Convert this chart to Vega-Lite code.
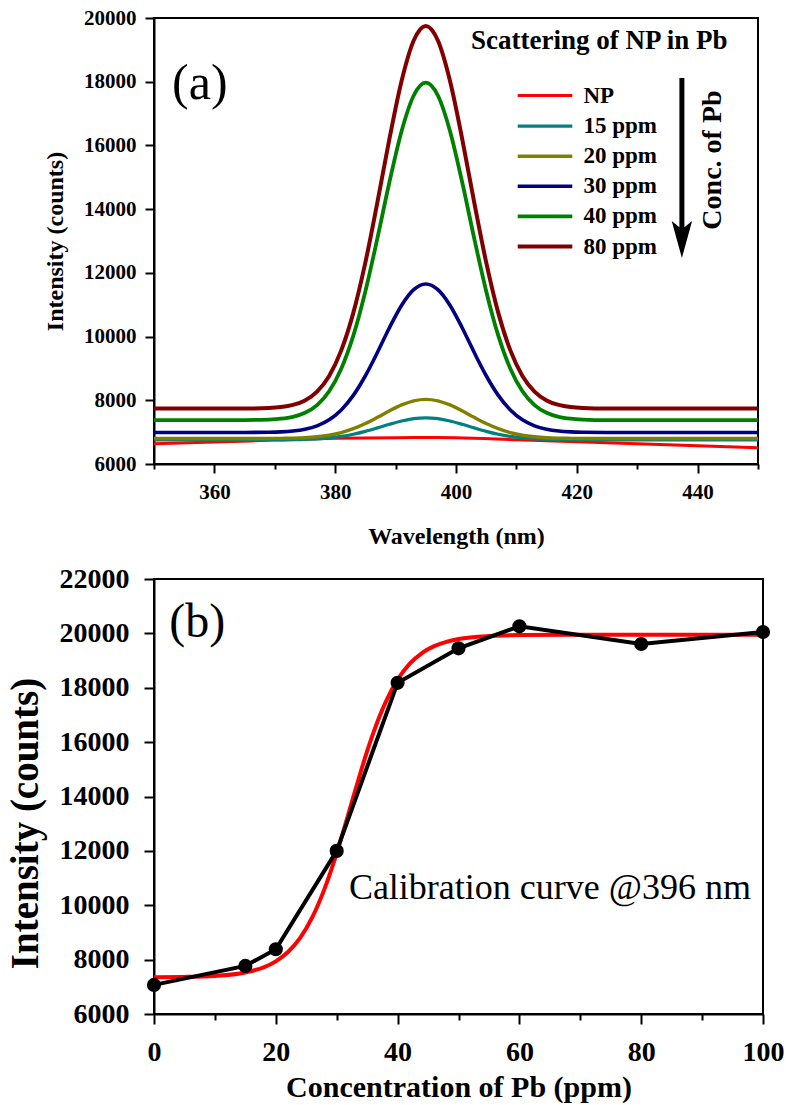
{
  "$schema": "https://vega.github.io/schema/vega-lite/v6.json",
  "background": "white",
  "padding": {"left": 5, "top": 6, "right": 20, "bottom": 2},
  "spacing": 115,
  "bounds": "flush",
  "datasets": {
    "spectra": [
      {"w":350,"s":"NP","v":6635},{"w":360,"s":"NP","v":6690},{"w":370,"s":"NP","v":6750},{"w":380,"s":"NP","v":6810},{"w":390,"s":"NP","v":6825},{"w":395,"s":"NP","v":6830},{"w":400,"s":"NP","v":6825},{"w":410,"s":"NP","v":6762},{"w":420,"s":"NP","v":6699},{"w":430,"s":"NP","v":6636},{"w":440,"s":"NP","v":6573},{"w":450,"s":"NP","v":6510},
      {"w":350,"s":"15 ppm","v":6760},{"w":360,"s":"15 ppm","v":6760},{"w":365,"s":"15 ppm","v":6760},{"w":369,"s":"15 ppm","v":6761},{"w":371,"s":"15 ppm","v":6763},{"w":373,"s":"15 ppm","v":6767},{"w":375,"s":"15 ppm","v":6775},{"w":377,"s":"15 ppm","v":6791},{"w":379,"s":"15 ppm","v":6819},{"w":381,"s":"15 ppm","v":6865},{"w":383,"s":"15 ppm","v":6933},{"w":385,"s":"15 ppm","v":7024},{"w":387,"s":"15 ppm","v":7133},{"w":389,"s":"15 ppm","v":7248},{"w":391,"s":"15 ppm","v":7351},{"w":393,"s":"15 ppm","v":7424},{"w":395,"s":"15 ppm","v":7450},{"w":397,"s":"15 ppm","v":7424},{"w":399,"s":"15 ppm","v":7351},{"w":401,"s":"15 ppm","v":7248},{"w":403,"s":"15 ppm","v":7133},{"w":405,"s":"15 ppm","v":7024},{"w":407,"s":"15 ppm","v":6933},{"w":409,"s":"15 ppm","v":6865},{"w":411,"s":"15 ppm","v":6819},{"w":413,"s":"15 ppm","v":6791},{"w":415,"s":"15 ppm","v":6775},{"w":417,"s":"15 ppm","v":6767},{"w":419,"s":"15 ppm","v":6763},{"w":421,"s":"15 ppm","v":6761},{"w":425,"s":"15 ppm","v":6760},{"w":430,"s":"15 ppm","v":6760},{"w":440,"s":"15 ppm","v":6760},{"w":450,"s":"15 ppm","v":6760},
      {"w":350,"s":"20 ppm","v":6800},{"w":360,"s":"20 ppm","v":6800},{"w":365,"s":"20 ppm","v":6800},{"w":369,"s":"20 ppm","v":6802},{"w":371,"s":"20 ppm","v":6805},{"w":373,"s":"20 ppm","v":6812},{"w":375,"s":"20 ppm","v":6826},{"w":377,"s":"20 ppm","v":6855},{"w":379,"s":"20 ppm","v":6905},{"w":381,"s":"20 ppm","v":6987},{"w":383,"s":"20 ppm","v":7108},{"w":385,"s":"20 ppm","v":7270},{"w":387,"s":"20 ppm","v":7464},{"w":389,"s":"20 ppm","v":7670},{"w":391,"s":"20 ppm","v":7854},{"w":393,"s":"20 ppm","v":7983},{"w":395,"s":"20 ppm","v":8030},{"w":397,"s":"20 ppm","v":7983},{"w":399,"s":"20 ppm","v":7854},{"w":401,"s":"20 ppm","v":7670},{"w":403,"s":"20 ppm","v":7464},{"w":405,"s":"20 ppm","v":7270},{"w":407,"s":"20 ppm","v":7108},{"w":409,"s":"20 ppm","v":6987},{"w":411,"s":"20 ppm","v":6905},{"w":413,"s":"20 ppm","v":6855},{"w":415,"s":"20 ppm","v":6826},{"w":417,"s":"20 ppm","v":6812},{"w":419,"s":"20 ppm","v":6805},{"w":421,"s":"20 ppm","v":6802},{"w":425,"s":"20 ppm","v":6800},{"w":430,"s":"20 ppm","v":6800},{"w":440,"s":"20 ppm","v":6800},{"w":450,"s":"20 ppm","v":6800},
      {"w":350,"s":"30 ppm","v":6990},{"w":360,"s":"30 ppm","v":6990},{"w":365,"s":"30 ppm","v":6990},{"w":369,"s":"30 ppm","v":6997},{"w":371,"s":"30 ppm","v":7008},{"w":373,"s":"30 ppm","v":7034},{"w":375,"s":"30 ppm","v":7090},{"w":377,"s":"30 ppm","v":7197},{"w":379,"s":"30 ppm","v":7387},{"w":381,"s":"30 ppm","v":7698},{"w":383,"s":"30 ppm","v":8155},{"w":385,"s":"30 ppm","v":8770},{"w":387,"s":"30 ppm","v":9506},{"w":389,"s":"30 ppm","v":10285},{"w":391,"s":"30 ppm","v":10984},{"w":393,"s":"30 ppm","v":11473},{"w":395,"s":"30 ppm","v":11650},{"w":397,"s":"30 ppm","v":11473},{"w":399,"s":"30 ppm","v":10984},{"w":401,"s":"30 ppm","v":10285},{"w":403,"s":"30 ppm","v":9506},{"w":405,"s":"30 ppm","v":8770},{"w":407,"s":"30 ppm","v":8155},{"w":409,"s":"30 ppm","v":7698},{"w":411,"s":"30 ppm","v":7387},{"w":413,"s":"30 ppm","v":7197},{"w":415,"s":"30 ppm","v":7090},{"w":417,"s":"30 ppm","v":7034},{"w":419,"s":"30 ppm","v":7008},{"w":421,"s":"30 ppm","v":6997},{"w":425,"s":"30 ppm","v":6990},{"w":430,"s":"30 ppm","v":6990},{"w":440,"s":"30 ppm","v":6990},{"w":450,"s":"30 ppm","v":6990},
      {"w":350,"s":"40 ppm","v":7380},{"w":360,"s":"40 ppm","v":7380},{"w":365,"s":"40 ppm","v":7380},{"w":369,"s":"40 ppm","v":7396},{"w":371,"s":"40 ppm","v":7421},{"w":373,"s":"40 ppm","v":7481},{"w":375,"s":"40 ppm","v":7607},{"w":377,"s":"40 ppm","v":7850},{"w":379,"s":"40 ppm","v":8283},{"w":381,"s":"40 ppm","v":8990},{"w":383,"s":"40 ppm","v":10028},{"w":385,"s":"40 ppm","v":11425},{"w":387,"s":"40 ppm","v":13099},{"w":389,"s":"40 ppm","v":14867},{"w":391,"s":"40 ppm","v":16456},{"w":393,"s":"40 ppm","v":17568},{"w":395,"s":"40 ppm","v":17970},{"w":397,"s":"40 ppm","v":17568},{"w":399,"s":"40 ppm","v":16456},{"w":401,"s":"40 ppm","v":14867},{"w":403,"s":"40 ppm","v":13099},{"w":405,"s":"40 ppm","v":11425},{"w":407,"s":"40 ppm","v":10028},{"w":409,"s":"40 ppm","v":8990},{"w":411,"s":"40 ppm","v":8283},{"w":413,"s":"40 ppm","v":7850},{"w":415,"s":"40 ppm","v":7607},{"w":417,"s":"40 ppm","v":7481},{"w":419,"s":"40 ppm","v":7421},{"w":421,"s":"40 ppm","v":7396},{"w":425,"s":"40 ppm","v":7380},{"w":430,"s":"40 ppm","v":7380},{"w":440,"s":"40 ppm","v":7380},{"w":450,"s":"40 ppm","v":7380},
      {"w":350,"s":"80 ppm","v":7740},{"w":360,"s":"80 ppm","v":7740},{"w":365,"s":"80 ppm","v":7740},{"w":369,"s":"80 ppm","v":7758},{"w":371,"s":"80 ppm","v":7787},{"w":373,"s":"80 ppm","v":7854},{"w":375,"s":"80 ppm","v":7997},{"w":377,"s":"80 ppm","v":8273},{"w":379,"s":"80 ppm","v":8764},{"w":381,"s":"80 ppm","v":9566},{"w":383,"s":"80 ppm","v":10743},{"w":385,"s":"80 ppm","v":12328},{"w":387,"s":"80 ppm","v":14225},{"w":389,"s":"80 ppm","v":16231},{"w":391,"s":"80 ppm","v":18033},{"w":393,"s":"80 ppm","v":19294},{"w":395,"s":"80 ppm","v":19750},{"w":397,"s":"80 ppm","v":19294},{"w":399,"s":"80 ppm","v":18033},{"w":401,"s":"80 ppm","v":16231},{"w":403,"s":"80 ppm","v":14225},{"w":405,"s":"80 ppm","v":12328},{"w":407,"s":"80 ppm","v":10743},{"w":409,"s":"80 ppm","v":9566},{"w":411,"s":"80 ppm","v":8764},{"w":413,"s":"80 ppm","v":8273},{"w":415,"s":"80 ppm","v":7997},{"w":417,"s":"80 ppm","v":7854},{"w":419,"s":"80 ppm","v":7787},{"w":421,"s":"80 ppm","v":7758},{"w":425,"s":"80 ppm","v":7740},{"w":430,"s":"80 ppm","v":7740},{"w":440,"s":"80 ppm","v":7740},{"w":450,"s":"80 ppm","v":7740}
    ],
    "points": [
      {"c":0,"v":7070},{"c":15,"v":7770},{"c":20,"v":8380},{"c":30,"v":12000},{"c":40,"v":18180},{"c":50,"v":19450},{"c":60,"v":20260},{"c":80,"v":19610},{"c":100,"v":20050}
    ],
    "fit": [
      {"c":0,"v":7355},{"c":5,"v":7365},{"c":10,"v":7402},{"c":15,"v":7528},{"c":18,"v":7715},{"c":20,"v":7936},{"c":22,"v":8279},{"c":24,"v":8799},{"c":26,"v":9561},{"c":28,"v":10601},{"c":30,"v":11916},{"c":31,"v":12655},{"c":32,"v":13418},{"c":33,"v":14192},{"c":34,"v":14948},{"c":35,"v":15666},{"c":36,"v":16331},{"c":38,"v":17455},{"c":40,"v":18299},{"c":42,"v":18887},{"c":44,"v":19277},{"c":46,"v":19529},{"c":48,"v":19689},{"c":50,"v":19790},{"c":55,"v":19902},{"c":60,"v":19936},{"c":70,"v":19949},{"c":80,"v":19950},{"c":90,"v":19950},{"c":100,"v":19950}
    ]
  },
  "vconcat": [
    {
      "width": 604,
      "height": 446,
      "layer": [
        {
          "data": {"name": "spectra"},
          "mark": {"type": "line", "interpolate": "monotone", "clip": true},
          "encoding": {
            "x": {"field": "w", "type": "quantitative",
              "scale": {"domain": [350, 450], "nice": false, "zero": false},
              "axis": {"title": "Wavelength (nm)", "values": [350,360,370,380,390,400,410,420,430,440,450], "format": "d",
                "labelExpr": "datum.value % 20 === 0 ? datum.label : ''",
                "tickSize": {"condition": {"test": "datum.value % 20 === 0", "value": 9}, "value": 5},
                "labelFontSize": 21, "titleFontSize": 24, "labelPadding": 8, "titlePadding": 22}},
            "y": {"field": "v", "type": "quantitative",
              "scale": {"domain": [6000, 20000], "nice": false, "zero": false},
              "axis": {"title": "Intensity (counts)", "values": [6000,7000,8000,9000,10000,11000,12000,13000,14000,15000,16000,17000,18000,19000,20000], "format": "d",
                "labelExpr": "datum.value % 2000 === 0 ? datum.label : ''",
                "tickSize": {"condition": {"test": "datum.value % 2000 === 0", "value": 9}, "value": 5},
                "labelFontSize": 21, "titleFontSize": 24, "labelPadding": 9, "titlePadding": 16}},
            "color": {"field": "s", "type": "nominal",
              "scale": {"domain": ["NP", "15 ppm", "20 ppm", "30 ppm", "40 ppm", "80 ppm"], "range": ["#FF0000", "#008080", "#808000", "#000080", "#008000", "#800000"]},
              "legend": {"orient": "none", "legendX": 376, "legendY": 63, "title": null, "symbolType": "M-2.1,0H2.1", "symbolSize": 676, "symbolStrokeWidth": 4.5, "symbolFillColor": "transparent", "labelFontSize": 23, "labelFont": "Liberation Serif", "labelFontWeight": "bold", "labelColor": "black", "labelOffset": 23.5, "rowPadding": 3.1, "padding": 0}},
            "strokeWidth": {"field": "s", "type": "nominal",
              "scale": {"domain": ["NP", "15 ppm", "20 ppm", "30 ppm", "40 ppm", "80 ppm"], "range": [3, 4, 4, 4.5, 4.5, 4.5]},
              "legend": null}
          }
        },
        {
          "data": {"values": [{"w": 353, "v": 17930, "t": "(a)"}]},
          "mark": {"type": "text", "align": "left", "baseline": "middle", "fontSize": 50, "font": "Liberation Serif", "color": "black"},
          "encoding": {"x": {"field": "w", "type": "quantitative"}, "y": {"field": "v", "type": "quantitative"}, "text": {"field": "t"}}
        },
        {
          "data": {"values": [{"w": 402.5, "v": 19025, "t": "Scattering of NP in Pb"}]},
          "mark": {"type": "text", "align": "left", "baseline": "alphabetic", "fontSize": 27, "fontWeight": "bold", "font": "Liberation Serif", "color": "black"},
          "encoding": {"x": {"field": "w", "type": "quantitative"}, "y": {"field": "v", "type": "quantitative"}, "text": {"field": "t"}}
        },
        {
          "data": {"values": [{"w": 442.5, "v": 15542, "t": "Conc. of Pb"}]},
          "mark": {"type": "text", "align": "center", "baseline": "middle", "angle": 270, "fontSize": 28, "fontWeight": "bold", "font": "Liberation Serif", "color": "black"},
          "encoding": {"x": {"field": "w", "type": "quantitative"}, "y": {"field": "v", "type": "quantitative"}, "text": {"field": "t"}}
        },
        {
          "data": {"values": [{"w": 437.4, "v": 18115, "v2": 13300}]},
          "mark": {"type": "rule", "color": "black", "strokeWidth": 5},
          "encoding": {"x": {"field": "w", "type": "quantitative"}, "y": {"field": "v", "type": "quantitative"}, "y2": {"field": "v2"}}
        },
        {
          "data": {"values": [{"w": 437.4, "v": 13046}]},
          "mark": {"type": "point", "shape": "M-0.55,-1L0,-0.55L0.55,-1L0,1Z", "size": 1369, "filled": true, "color": "black", "opacity": 1},
          "encoding": {"x": {"field": "w", "type": "quantitative"}, "y": {"field": "v", "type": "quantitative"}}
        }
      ]
    },
    {
      "width": 609,
      "height": 435,
      "layer": [
        {
          "data": {"name": "fit"},
          "mark": {"type": "line", "color": "#FF0000", "strokeWidth": 4, "interpolate": "monotone"},
          "encoding": {
            "x": {"field": "c", "type": "quantitative",
              "scale": {"domain": [0, 100], "nice": false},
              "axis": {"title": "Concentration of Pb (ppm)", "values": [0,10,20,30,40,50,60,70,80,90,100], "format": "d",
                "labelExpr": "datum.value % 20 === 0 ? datum.label : ''",
                "tickSize": {"condition": {"test": "datum.value % 20 === 0", "value": 10}, "value": 6},
                "labelFontSize": 28, "titleFontSize": 30, "labelPadding": 14, "titlePadding": 6}},
            "y": {"field": "v", "type": "quantitative",
              "scale": {"domain": [6000, 22000], "nice": false, "zero": false},
              "axis": {"title": "Intensity (counts)", "values": [6000,7000,8000,9000,10000,11000,12000,13000,14000,15000,16000,17000,18000,19000,20000,21000,22000], "format": "d",
                "labelExpr": "datum.value % 2000 === 0 ? datum.label : ''",
                "tickSize": {"condition": {"test": "datum.value % 2000 === 0", "value": 10}, "value": 6},
                "labelFontSize": 28, "titleFontSize": 39, "labelPadding": 15, "titlePadding": 14, "titleY": 244}}
          }
        },
        {
          "data": {"name": "points"},
          "mark": {"type": "line", "color": "black", "strokeWidth": 4, "point": {"filled": true, "size": 200, "color": "black", "opacity": 1}},
          "encoding": {"x": {"field": "c", "type": "quantitative"}, "y": {"field": "v", "type": "quantitative"}}
        },
        {
          "data": {"values": [{"c": 2.5, "v": 20380, "t": "(b)"}]},
          "mark": {"type": "text", "align": "left", "baseline": "middle", "fontSize": 48, "font": "Liberation Serif", "color": "black"},
          "encoding": {"x": {"field": "c", "type": "quantitative"}, "y": {"field": "v", "type": "quantitative"}, "text": {"field": "t"}}
        },
        {
          "data": {"values": [{"c": 32.0, "v": 10229, "t": "Calibration curve @396 nm"}]},
          "mark": {"type": "text", "align": "left", "baseline": "alphabetic", "fontSize": 36, "font": "Liberation Serif", "color": "black"},
          "encoding": {"x": {"field": "c", "type": "quantitative"}, "y": {"field": "v", "type": "quantitative"}, "text": {"field": "t"}}
        }
      ]
    }
  ],
  "config": {
    "font": "Liberation Serif",
    "view": {"stroke": "black", "strokeWidth": 2},
    "axis": {"domainColor": "black", "domainWidth": 2, "tickColor": "black", "tickWidth": 2, "labelColor": "black", "titleColor": "black", "labelFont": "Liberation Serif", "titleFont": "Liberation Serif", "labelFontWeight": "bold", "titleFontWeight": "bold", "grid": false, "labelOverlap": false, "labelFlush": false, "zindex": 1}
  }
}
